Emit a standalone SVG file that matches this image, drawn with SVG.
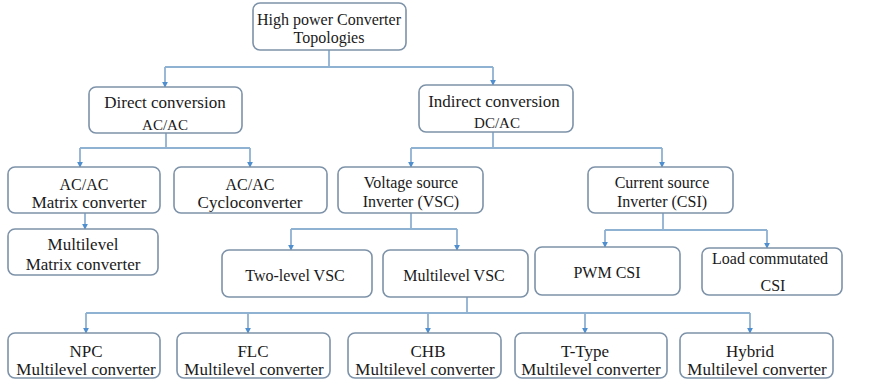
<svg xmlns="http://www.w3.org/2000/svg" width="871" height="384" viewBox="0 0 871 384">
  <style>
    .box { fill: #ffffff; stroke: #7d92a8; stroke-width: 1.6; }
    .lbl { font-family: "Liberation Serif", serif; font-size: 17px; fill: #1a1a1a; text-anchor: middle; }
    .md { font-size: 16px; }
    .sm { font-size: 15px; }
    .wire { fill: none; stroke: #8fb1d2; stroke-width: 1.8; marker-end: url(#tip); }
    .bar { fill: none; stroke: #8fb1d2; stroke-width: 1.8; }
  </style>
  <defs>
    <marker id="tip" viewBox="0 0 8 8" refX="7" refY="4" markerWidth="6" markerHeight="6" markerUnits="userSpaceOnUse" orient="auto">
      <path d="M0,0 L8,4 L0,8 Z" fill="#4f8fd0"/>
    </marker>
  </defs>
  <rect width="871" height="384" fill="#ffffff"/>

  <!-- connectors -->
  <g id="connectors">
    <!-- root split -->
    <path class="bar" d="M329,50 V67 M165,67 H493"/>
    <path class="wire" d="M165,67 V87"/>
    <path class="wire" d="M493,67 V85"/>
    <!-- direct conversion split -->
    <path class="bar" d="M166,133 V148 M80,148 H250"/>
    <path class="wire" d="M80,148 V167"/>
    <path class="wire" d="M250,148 V167"/>
    <path class="wire" d="M85,213 V229"/>
    <!-- indirect conversion split -->
    <path class="bar" d="M493,132 V148 M411,148 H662"/>
    <path class="wire" d="M411,148 V167"/>
    <path class="wire" d="M662,148 V167"/>
    <!-- VSC split -->
    <path class="bar" d="M411,213 V229 M291,229 H457"/>
    <path class="wire" d="M291,229 V250"/>
    <path class="wire" d="M457,229 V250"/>
    <!-- CSI split -->
    <path class="bar" d="M663,213 V230 M605,230 H767"/>
    <path class="wire" d="M605,230 V247"/>
    <path class="wire" d="M767,230 V248"/>
    <!-- multilevel VSC split -->
    <path class="bar" d="M467,297 V313 M86,313 H750"/>
    <path class="wire" d="M86,313 V333"/>
    <path class="wire" d="M248,313 V333"/>
    <path class="wire" d="M428,313 V333"/>
    <path class="wire" d="M585,313 V333"/>
    <path class="wire" d="M750,313 V333"/>
  </g>

  <g id="root">
    <rect class="box" x="253" y="3" width="153" height="47" rx="7"/>
    <text class="lbl md" x="329" y="25">High power Converter</text>
    <text class="lbl md" x="329" y="43">Topologies</text>
  </g>
  <g id="direct">
    <rect class="box" x="89" y="87" width="153" height="46" rx="7"/>
    <text class="lbl" x="165" y="108">Direct conversion</text>
    <text class="lbl sm" x="165" y="130">AC/AC</text>
  </g>
  <g id="indirect">
    <rect class="box" x="419" y="85" width="154" height="47" rx="7"/>
    <text class="lbl" x="494" y="107">Indirect conversion</text>
    <text class="lbl sm" x="497" y="128">DC/AC</text>
  </g>
  <g id="matrix">
    <rect class="box" x="8" y="167" width="152" height="46" rx="7"/>
    <text class="lbl md" x="84" y="190">AC/AC</text>
    <text class="lbl" x="89" y="208">Matrix converter</text>
  </g>
  <g id="cyclo">
    <rect class="box" x="174" y="167" width="153" height="46" rx="7"/>
    <text class="lbl md" x="250" y="190">AC/AC</text>
    <text class="lbl" x="250" y="208">Cycloconverter</text>
  </g>
  <g id="ml-matrix">
    <rect class="box" x="8" y="229" width="150" height="46" rx="7"/>
    <text class="lbl" x="83" y="250">Multilevel</text>
    <text class="lbl" x="83" y="270">Matrix converter</text>
  </g>
  <g id="vsc">
    <rect class="box" x="338" y="167" width="145" height="46" rx="7"/>
    <text class="lbl md" x="411" y="188">Voltage source</text>
    <text class="lbl md" x="411" y="207">Inverter (VSC)</text>
  </g>
  <g id="csi">
    <rect class="box" x="588" y="167" width="145" height="46" rx="7"/>
    <text class="lbl md" x="662" y="188">Current source</text>
    <text class="lbl md" x="662" y="207">Inverter (CSI)</text>
  </g>
  <g id="two-level">
    <rect class="box" x="222" y="250" width="150" height="47" rx="7"/>
    <text class="lbl md" x="295" y="281">Two-level VSC</text>
  </g>
  <g id="ml-vsc">
    <rect class="box" x="383" y="250" width="145" height="47" rx="7"/>
    <text class="lbl md" x="454" y="281">Multilevel VSC</text>
  </g>
  <g id="pwm-csi">
    <rect class="box" x="535" y="247" width="145" height="48" rx="7"/>
    <text class="lbl md" x="607" y="278">PWM CSI</text>
  </g>
  <g id="load-csi">
    <rect class="box" x="702" y="248" width="140" height="47" rx="7"/>
    <text class="lbl md" x="770" y="264">Load commutated</text>
    <text class="lbl md" x="773" y="291">CSI</text>
  </g>
  <g id="npc">
    <rect class="box" x="8" y="333" width="152" height="45" rx="7"/>
    <text class="lbl" x="86" y="357">NPC</text>
    <text class="lbl" x="86" y="375">Multilevel converter</text>
  </g>
  <g id="flc">
    <rect class="box" x="177" y="333" width="153" height="45" rx="7"/>
    <text class="lbl" x="253" y="357">FLC</text>
    <text class="lbl" x="254" y="375">Multilevel converter</text>
  </g>
  <g id="chb">
    <rect class="box" x="348" y="333" width="153" height="45" rx="7"/>
    <text class="lbl" x="428" y="357">CHB</text>
    <text class="lbl" x="425" y="375">Multilevel converter</text>
  </g>
  <g id="t-type">
    <rect class="box" x="515" y="333" width="152" height="45" rx="7"/>
    <text class="lbl" x="585" y="357">T-Type</text>
    <text class="lbl" x="591" y="375">Multilevel converter</text>
  </g>
  <g id="hybrid">
    <rect class="box" x="680" y="333" width="153" height="45" rx="7"/>
    <text class="lbl" x="750" y="357">Hybrid</text>
    <text class="lbl" x="757" y="375">Multilevel converter</text>
  </g>
</svg>
